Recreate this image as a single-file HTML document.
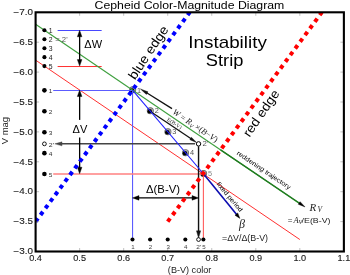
<!DOCTYPE html>
<html><head><meta charset="utf-8"><style>
html,body{margin:0;padding:0;background:#fff;width:350px;height:275px;overflow:hidden}
svg{display:block;will-change:transform}
</style></head><body>
<svg width="350" height="275" viewBox="0 0 350 275" font-family="Liberation Sans, sans-serif">
<rect width="350" height="275" fill="#fff"/>
<clipPath id="ax"><rect x="35.60" y="12.30" width="308.28" height="239.20"/></clipPath>
<g clip-path="url(#ax)">
<circle cx="132.69" cy="89.84" r="3.5" fill="#606060"/>
<circle cx="132.69" cy="89.84" r="2.8" fill="#a8a8a8"/>
<circle cx="132.09" cy="90.44" r="2.25" fill="#000"/>
<circle cx="150.30" cy="110.77" r="3.5" fill="#606060"/>
<circle cx="150.30" cy="110.77" r="2.8" fill="#a8a8a8"/>
<circle cx="149.70" cy="111.37" r="2.25" fill="#000"/>
<circle cx="167.92" cy="131.70" r="3.5" fill="#606060"/>
<circle cx="167.92" cy="131.70" r="2.8" fill="#a8a8a8"/>
<circle cx="167.32" cy="132.30" r="2.25" fill="#000"/>
<circle cx="185.54" cy="152.63" r="3.5" fill="#606060"/>
<circle cx="185.54" cy="152.63" r="2.8" fill="#a8a8a8"/>
<circle cx="184.94" cy="153.23" r="2.25" fill="#000"/>
<circle cx="203.60" cy="173.56" r="3.5" fill="#606060"/>
<circle cx="203.60" cy="173.56" r="2.8" fill="#a8a8a8"/>
<circle cx="203.00" cy="174.16" r="2.25" fill="#000"/>
<line x1="57.62" y1="30.44" x2="101.66" y2="30.44" stroke="#4848ff" stroke-width="1.05" />
<line x1="57.62" y1="66.52" x2="101.66" y2="66.52" stroke="#ff3030" stroke-width="1.0" />
<line x1="35.60" y1="60.14" x2="299.84" y2="239.54" stroke="#ff3030" stroke-width="1.0" />
<line x1="53.22" y1="90.50" x2="132.49" y2="90.50" stroke="#5c5cff" stroke-width="1.0" />
<line x1="132.55" y1="90.04" x2="132.55" y2="239.54" stroke="#5c5cff" stroke-width="1.1" />
<line x1="53.22" y1="173.96" x2="203.40" y2="173.96" stroke="#ff8080" stroke-width="1.5" />
<line x1="203.40" y1="173.76" x2="203.40" y2="239.54" stroke="#ff5c5c" stroke-width="1.1" />
<line x1="35.60" y1="24.26" x2="299.84" y2="203.66" stroke="#3fa03f" stroke-width="1.15" />
<line x1="195.05" y1="143.86" x2="60.58" y2="143.86" stroke="#444" stroke-width="1.5" />
<polygon points="54.82,143.86 62.02,141.86 62.02,145.86" fill="#444" stroke="#444" stroke-width="0.4" stroke-linejoin="miter"/>
<line x1="198.55" y1="146.36" x2="198.55" y2="232.28" stroke="#111" stroke-width="1.4" />
<polygon points="198.55,238.04 196.45,230.84 200.65,230.84" fill="#111" stroke="#111" stroke-width="0.4" stroke-linejoin="miter"/>
<line x1="79.64" y1="60.92" x2="79.64" y2="35.44" stroke="#000" stroke-width="1.3" />
<polygon points="79.64,30.24 81.94,36.74 77.34,36.74" fill="#000" stroke="#000" stroke-width="0.4" stroke-linejoin="miter"/>
<polygon points="79.64,66.12 77.34,59.62 81.94,59.62" fill="#000" stroke="#000" stroke-width="0.4" stroke-linejoin="miter"/>
<line x1="79.64" y1="168.56" x2="79.64" y2="95.24" stroke="#000" stroke-width="1.3" />
<polygon points="79.64,90.04 81.94,96.54 77.34,96.54" fill="#000" stroke="#000" stroke-width="0.4" stroke-linejoin="miter"/>
<polygon points="79.64,173.76 77.34,167.26 81.94,167.26" fill="#000" stroke="#000" stroke-width="0.4" stroke-linejoin="miter"/>
<line x1="137.69" y1="197.90" x2="193.35" y2="197.90" stroke="#000" stroke-width="1.3" />
<polygon points="198.55,197.90 192.05,200.20 192.05,195.60" fill="#000" stroke="#000" stroke-width="0.4" stroke-linejoin="miter"/>
<polygon points="132.49,197.90 138.99,195.60 138.99,200.20" fill="#000" stroke="#000" stroke-width="0.4" stroke-linejoin="miter"/>
<line x1="151.60" y1="112.17" x2="191.87" y2="139.31" stroke="#111" stroke-width="1.25" />
<polygon points="196.85,142.66 189.85,139.63 191.41,137.31" fill="#111" stroke="#111" stroke-width="0.4" stroke-linejoin="miter"/>
<line x1="172.00" y1="108.60" x2="145.83" y2="92.29" stroke="#111" stroke-width="1.3" />
<polygon points="140.40,88.90 147.98,91.86 146.40,94.41" fill="#111" stroke="#111" stroke-width="0.4" stroke-linejoin="miter"/>
<circle cx="198.55" cy="143.86" r="2.2" fill="#fff" stroke="#000" stroke-width="1"/>
<line x1="132.49" y1="90.04" x2="203.40" y2="173.76" stroke="#2020ff" stroke-width="1.1" />
<line x1="203.40" y1="173.76" x2="237.06" y2="214.93" stroke="#0c0cb0" stroke-width="1.6" />
<polygon points="239.90,218.40 234.96,215.20 237.75,212.93" fill="#000" stroke="#000" stroke-width="0.4" stroke-linejoin="miter"/>
<line x1="220.57" y1="149.84" x2="300.36" y2="203.76" stroke="#1f7a1f" stroke-width="1.3" />
<polygon points="305.00,206.90 298.30,204.31 300.10,201.65" fill="#000" stroke="#000" stroke-width="0.4" stroke-linejoin="miter"/>
<line x1="35.60" y1="221.60" x2="189.74" y2="12.30" stroke="#0000ff" stroke-width="4" stroke-dasharray="4 4.27"/>
<line x1="167.72" y1="221.60" x2="321.86" y2="12.30" stroke="#ff0000" stroke-width="4" stroke-dasharray="4 4.27"/>
<circle cx="44.41" cy="30.24" r="2.05" fill="#000"/>
<circle cx="44.41" cy="39.21" r="2.05" fill="#000"/>
<circle cx="44.41" cy="48.18" r="2.05" fill="#000"/>
<circle cx="44.41" cy="57.15" r="2.05" fill="#000"/>
<circle cx="44.41" cy="66.12" r="2.05" fill="#000"/>
<circle cx="44.41" cy="90.34" r="2.3" fill="#000"/>
<circle cx="44.41" cy="111.27" r="2.3" fill="#000"/>
<circle cx="44.41" cy="132.20" r="2.3" fill="#000"/>
<circle cx="44.41" cy="153.13" r="2.3" fill="#000"/>
<circle cx="44.41" cy="174.06" r="2.3" fill="#000"/>
<circle cx="44.41" cy="143.86" r="1.9" fill="#fff" stroke="#000" stroke-width="0.9"/>
<circle cx="132.49" cy="239.54" r="2.05" fill="#000"/>
<circle cx="150.10" cy="239.54" r="2.05" fill="#000"/>
<circle cx="167.72" cy="239.54" r="2.05" fill="#000"/>
<circle cx="185.34" cy="239.54" r="2.05" fill="#000"/>
<circle cx="203.40" cy="239.54" r="2.05" fill="#000"/>
<circle cx="198.55" cy="239.54" r="1.9" fill="#fff" stroke="#000" stroke-width="0.9"/>
</g>
<line x1="35.60" y1="12.30" x2="35.60" y2="15.80" stroke="#999" stroke-width="0.6" />
<line x1="35.60" y1="251.50" x2="35.60" y2="248.00" stroke="#999" stroke-width="0.6" />
<line x1="79.64" y1="12.30" x2="79.64" y2="15.80" stroke="#999" stroke-width="0.6" />
<line x1="79.64" y1="251.50" x2="79.64" y2="248.00" stroke="#999" stroke-width="0.6" />
<line x1="123.68" y1="12.30" x2="123.68" y2="15.80" stroke="#999" stroke-width="0.6" />
<line x1="123.68" y1="251.50" x2="123.68" y2="248.00" stroke="#999" stroke-width="0.6" />
<line x1="167.72" y1="12.30" x2="167.72" y2="15.80" stroke="#999" stroke-width="0.6" />
<line x1="167.72" y1="251.50" x2="167.72" y2="248.00" stroke="#999" stroke-width="0.6" />
<line x1="211.76" y1="12.30" x2="211.76" y2="15.80" stroke="#999" stroke-width="0.6" />
<line x1="211.76" y1="251.50" x2="211.76" y2="248.00" stroke="#999" stroke-width="0.6" />
<line x1="255.80" y1="12.30" x2="255.80" y2="15.80" stroke="#999" stroke-width="0.6" />
<line x1="255.80" y1="251.50" x2="255.80" y2="248.00" stroke="#999" stroke-width="0.6" />
<line x1="299.84" y1="12.30" x2="299.84" y2="15.80" stroke="#999" stroke-width="0.6" />
<line x1="299.84" y1="251.50" x2="299.84" y2="248.00" stroke="#999" stroke-width="0.6" />
<line x1="343.88" y1="12.30" x2="343.88" y2="15.80" stroke="#999" stroke-width="0.6" />
<line x1="343.88" y1="251.50" x2="343.88" y2="248.00" stroke="#999" stroke-width="0.6" />
<line x1="35.60" y1="12.30" x2="39.10" y2="12.30" stroke="#999" stroke-width="0.6" />
<line x1="343.88" y1="12.30" x2="340.38" y2="12.30" stroke="#999" stroke-width="0.6" />
<line x1="35.60" y1="42.20" x2="39.10" y2="42.20" stroke="#999" stroke-width="0.6" />
<line x1="343.88" y1="42.20" x2="340.38" y2="42.20" stroke="#999" stroke-width="0.6" />
<line x1="35.60" y1="72.10" x2="39.10" y2="72.10" stroke="#999" stroke-width="0.6" />
<line x1="343.88" y1="72.10" x2="340.38" y2="72.10" stroke="#999" stroke-width="0.6" />
<line x1="35.60" y1="102.00" x2="39.10" y2="102.00" stroke="#999" stroke-width="0.6" />
<line x1="343.88" y1="102.00" x2="340.38" y2="102.00" stroke="#999" stroke-width="0.6" />
<line x1="35.60" y1="131.90" x2="39.10" y2="131.90" stroke="#999" stroke-width="0.6" />
<line x1="343.88" y1="131.90" x2="340.38" y2="131.90" stroke="#999" stroke-width="0.6" />
<line x1="35.60" y1="161.80" x2="39.10" y2="161.80" stroke="#999" stroke-width="0.6" />
<line x1="343.88" y1="161.80" x2="340.38" y2="161.80" stroke="#999" stroke-width="0.6" />
<line x1="35.60" y1="191.70" x2="39.10" y2="191.70" stroke="#999" stroke-width="0.6" />
<line x1="343.88" y1="191.70" x2="340.38" y2="191.70" stroke="#999" stroke-width="0.6" />
<line x1="35.60" y1="221.60" x2="39.10" y2="221.60" stroke="#999" stroke-width="0.6" />
<line x1="343.88" y1="221.60" x2="340.38" y2="221.60" stroke="#999" stroke-width="0.6" />
<line x1="35.60" y1="251.50" x2="39.10" y2="251.50" stroke="#999" stroke-width="0.6" />
<line x1="343.88" y1="251.50" x2="340.38" y2="251.50" stroke="#999" stroke-width="0.6" />
<rect x="35.60" y="12.30" width="308.28" height="239.20" fill="none" stroke="#000" stroke-width="2.1"/>
<text x="35.60" y="261.00" font-size="8.48" font-family="Liberation Sans" fill="#1a1a1a" text-anchor="middle" textLength="12.72" lengthAdjust="spacingAndGlyphs"  stroke="#1a1a1a" stroke-width="0.12">0.4</text>
<text x="79.64" y="261.00" font-size="8.48" font-family="Liberation Sans" fill="#1a1a1a" text-anchor="middle" textLength="12.72" lengthAdjust="spacingAndGlyphs"  stroke="#1a1a1a" stroke-width="0.12">0.5</text>
<text x="123.68" y="261.00" font-size="8.48" font-family="Liberation Sans" fill="#1a1a1a" text-anchor="middle" textLength="12.72" lengthAdjust="spacingAndGlyphs"  stroke="#1a1a1a" stroke-width="0.12">0.6</text>
<text x="167.72" y="261.00" font-size="8.48" font-family="Liberation Sans" fill="#1a1a1a" text-anchor="middle" textLength="12.72" lengthAdjust="spacingAndGlyphs"  stroke="#1a1a1a" stroke-width="0.12">0.7</text>
<text x="211.76" y="261.00" font-size="8.48" font-family="Liberation Sans" fill="#1a1a1a" text-anchor="middle" textLength="12.72" lengthAdjust="spacingAndGlyphs"  stroke="#1a1a1a" stroke-width="0.12">0.8</text>
<text x="255.80" y="261.00" font-size="8.48" font-family="Liberation Sans" fill="#1a1a1a" text-anchor="middle" textLength="12.72" lengthAdjust="spacingAndGlyphs"  stroke="#1a1a1a" stroke-width="0.12">0.9</text>
<text x="299.84" y="261.00" font-size="8.48" font-family="Liberation Sans" fill="#1a1a1a" text-anchor="middle" textLength="12.72" lengthAdjust="spacingAndGlyphs"  stroke="#1a1a1a" stroke-width="0.12">1.0</text>
<text x="343.88" y="261.00" font-size="8.48" font-family="Liberation Sans" fill="#1a1a1a" text-anchor="middle" textLength="12.72" lengthAdjust="spacingAndGlyphs"  stroke="#1a1a1a" stroke-width="0.12">1.1</text>
<text x="32.90" y="15.00" font-size="8.48" font-family="Liberation Sans" fill="#1a1a1a" text-anchor="end" textLength="19.43" lengthAdjust="spacingAndGlyphs"  stroke="#1a1a1a" stroke-width="0.12">−7.0</text>
<text x="32.90" y="44.90" font-size="8.48" font-family="Liberation Sans" fill="#1a1a1a" text-anchor="end" textLength="19.43" lengthAdjust="spacingAndGlyphs"  stroke="#1a1a1a" stroke-width="0.12">−6.5</text>
<text x="32.90" y="74.80" font-size="8.48" font-family="Liberation Sans" fill="#1a1a1a" text-anchor="end" textLength="19.43" lengthAdjust="spacingAndGlyphs"  stroke="#1a1a1a" stroke-width="0.12">−6.0</text>
<text x="32.90" y="104.70" font-size="8.48" font-family="Liberation Sans" fill="#1a1a1a" text-anchor="end" textLength="19.43" lengthAdjust="spacingAndGlyphs"  stroke="#1a1a1a" stroke-width="0.12">−5.5</text>
<text x="32.90" y="134.60" font-size="8.48" font-family="Liberation Sans" fill="#1a1a1a" text-anchor="end" textLength="19.43" lengthAdjust="spacingAndGlyphs"  stroke="#1a1a1a" stroke-width="0.12">−5.0</text>
<text x="32.90" y="164.50" font-size="8.48" font-family="Liberation Sans" fill="#1a1a1a" text-anchor="end" textLength="19.43" lengthAdjust="spacingAndGlyphs"  stroke="#1a1a1a" stroke-width="0.12">−4.5</text>
<text x="32.90" y="194.40" font-size="8.48" font-family="Liberation Sans" fill="#1a1a1a" text-anchor="end" textLength="19.43" lengthAdjust="spacingAndGlyphs"  stroke="#1a1a1a" stroke-width="0.12">−4.0</text>
<text x="32.90" y="224.30" font-size="8.48" font-family="Liberation Sans" fill="#1a1a1a" text-anchor="end" textLength="19.43" lengthAdjust="spacingAndGlyphs"  stroke="#1a1a1a" stroke-width="0.12">−3.5</text>
<text x="32.90" y="254.20" font-size="8.48" font-family="Liberation Sans" fill="#1a1a1a" text-anchor="end" textLength="19.43" lengthAdjust="spacingAndGlyphs"  stroke="#1a1a1a" stroke-width="0.12">−3.0</text>
<text x="94.60" y="8.60" font-size="10.6" font-family="Liberation Sans" fill="#000" text-anchor="start" textLength="189.69" lengthAdjust="spacingAndGlyphs" >Cepheid Color-Magnitude Diagram</text>
<text x="189.60" y="273.10" font-size="8.8" font-family="Liberation Sans" fill="#1a1a1a" text-anchor="middle" textLength="43.43" lengthAdjust="spacingAndGlyphs" >(B-V) color</text>
<text x="8.40" y="130.60" font-size="9.01" font-family="Liberation Sans" fill="#1a1a1a" text-anchor="middle" textLength="27.40" lengthAdjust="spacingAndGlyphs" transform="rotate(-90 8.40 130.60)" >V mag</text>
<text x="48.71" y="33.34" font-size="6.36" font-family="Liberation Sans" fill="#1a1a1a" text-anchor="start" textLength="3.82" lengthAdjust="spacingAndGlyphs" >1</text>
<text x="48.71" y="42.31" font-size="6.36" font-family="Liberation Sans" fill="#1a1a1a" text-anchor="start" textLength="3.82" lengthAdjust="spacingAndGlyphs" >2</text>
<text x="48.71" y="51.28" font-size="6.36" font-family="Liberation Sans" fill="#1a1a1a" text-anchor="start" textLength="3.82" lengthAdjust="spacingAndGlyphs" >3</text>
<text x="48.71" y="60.25" font-size="6.36" font-family="Liberation Sans" fill="#1a1a1a" text-anchor="start" textLength="3.82" lengthAdjust="spacingAndGlyphs" >4</text>
<text x="48.71" y="69.22" font-size="6.36" font-family="Liberation Sans" fill="#1a1a1a" text-anchor="start" textLength="3.82" lengthAdjust="spacingAndGlyphs" >5</text>
<text x="55.21" y="42.31" font-size="6.36" font-family="Liberation Sans" fill="#555" text-anchor="start" textLength="12.40" lengthAdjust="spacingAndGlyphs" >= 2'</text>
<text x="48.81" y="93.24" font-size="6.04" font-family="Liberation Sans" fill="#333" text-anchor="start" textLength="3.63" lengthAdjust="spacingAndGlyphs" >1</text>
<text x="48.81" y="114.17" font-size="6.04" font-family="Liberation Sans" fill="#333" text-anchor="start" textLength="3.63" lengthAdjust="spacingAndGlyphs" >2</text>
<text x="48.81" y="135.10" font-size="6.04" font-family="Liberation Sans" fill="#333" text-anchor="start" textLength="3.63" lengthAdjust="spacingAndGlyphs" >3</text>
<text x="48.81" y="156.03" font-size="6.04" font-family="Liberation Sans" fill="#333" text-anchor="start" textLength="3.63" lengthAdjust="spacingAndGlyphs" >4</text>
<text x="48.81" y="176.96" font-size="6.04" font-family="Liberation Sans" fill="#333" text-anchor="start" textLength="3.63" lengthAdjust="spacingAndGlyphs" >5</text>
<text x="48.81" y="147.06" font-size="6.04" font-family="Liberation Sans" fill="#333" text-anchor="start" textLength="5.19" lengthAdjust="spacingAndGlyphs" >2'</text>
<text x="132.89" y="248.94" font-size="5.72" font-family="Liberation Sans" fill="#444" text-anchor="middle" textLength="3.44" lengthAdjust="spacingAndGlyphs" >1</text>
<text x="150.50" y="248.94" font-size="5.72" font-family="Liberation Sans" fill="#444" text-anchor="middle" textLength="3.44" lengthAdjust="spacingAndGlyphs" >2</text>
<text x="168.12" y="248.94" font-size="5.72" font-family="Liberation Sans" fill="#444" text-anchor="middle" textLength="3.44" lengthAdjust="spacingAndGlyphs" >3</text>
<text x="185.74" y="248.94" font-size="5.72" font-family="Liberation Sans" fill="#444" text-anchor="middle" textLength="3.44" lengthAdjust="spacingAndGlyphs" >4</text>
<text x="198.85" y="248.94" font-size="5.72" font-family="Liberation Sans" fill="#444" text-anchor="middle" textLength="4.92" lengthAdjust="spacingAndGlyphs" >2'</text>
<text x="204.00" y="248.94" font-size="5.72" font-family="Liberation Sans" fill="#444" text-anchor="middle" textLength="3.44" lengthAdjust="spacingAndGlyphs" >5</text>
<text x="137.09" y="92.54" font-size="6.78" font-family="Liberation Sans" fill="#505050" text-anchor="start" textLength="4.07" lengthAdjust="spacingAndGlyphs" >1</text>
<text x="154.70" y="113.47" font-size="6.78" font-family="Liberation Sans" fill="#505050" text-anchor="start" textLength="4.07" lengthAdjust="spacingAndGlyphs" >2</text>
<text x="172.32" y="134.40" font-size="6.78" font-family="Liberation Sans" fill="#505050" text-anchor="start" textLength="4.07" lengthAdjust="spacingAndGlyphs" >3</text>
<text x="189.94" y="155.33" font-size="6.78" font-family="Liberation Sans" fill="#505050" text-anchor="start" textLength="4.07" lengthAdjust="spacingAndGlyphs" >4</text>
<text x="208.00" y="176.26" font-size="6.78" font-family="Liberation Sans" fill="#888" text-anchor="start" textLength="4.07" lengthAdjust="spacingAndGlyphs" >5</text>
<text x="202.55" y="146.36" font-size="6.78" font-family="Liberation Sans" fill="#505050" text-anchor="start" textLength="5.83" lengthAdjust="spacingAndGlyphs" >2'</text>
<text x="188.30" y="47.60" font-size="16.96" font-family="Liberation Sans" fill="#000" text-anchor="start" textLength="78.51" lengthAdjust="spacingAndGlyphs" >Instability</text>
<text x="205.80" y="65.60" font-size="16.96" font-family="Liberation Sans" fill="#000" text-anchor="start" textLength="37.61" lengthAdjust="spacingAndGlyphs" >Strip</text>
<text x="84.30" y="48.40" font-size="11.24" font-family="Liberation Sans" fill="#000" text-anchor="start" textLength="17.73" lengthAdjust="spacingAndGlyphs" >ΔW</text>
<rect x="71.5" y="119.9" width="17" height="17.6" fill="#fff"/>
<text x="80.00" y="132.60" font-size="11.45" font-family="Liberation Sans" fill="#000" text-anchor="middle" textLength="14.78" lengthAdjust="spacingAndGlyphs" >ΔV</text>
<text x="163.00" y="192.80" font-size="11.45" font-family="Liberation Sans" fill="#000" text-anchor="middle" textLength="33.88" lengthAdjust="spacingAndGlyphs" >Δ(B-V)</text>
<text x="135.00" y="80.40" font-size="13.04" font-family="Liberation Sans" fill="#000" text-anchor="start" textLength="61.25" lengthAdjust="spacingAndGlyphs" transform="rotate(-56.2 135.00 80.40)" >blue edge</text>
<text x="249.40" y="137.80" font-size="12.83" font-family="Liberation Sans" fill="#000" text-anchor="start" textLength="53.93" lengthAdjust="spacingAndGlyphs" transform="rotate(-55.5 249.40 137.80)" >red edge</text>
<text x="236.20" y="154.30" font-size="6.57" font-family="Liberation Sans" fill="#000" text-anchor="start" textLength="63.57" lengthAdjust="spacingAndGlyphs" transform="rotate(33.8 236.20 154.30)" >reddening trajectory</text>
<text x="216.30" y="184.20" font-size="6.52" font-family="Liberation Sans" fill="#000" text-anchor="start" textLength="36.56" lengthAdjust="spacingAndGlyphs" transform="rotate(50.3 216.30 184.20)" >fixed period</text>
<text x="171.90" y="113.30" font-size="8.5" font-family="Liberation Serif" fill="#222" text-anchor="start" transform="rotate(33.8 171.90 113.30)" ><tspan font-style='italic'>W</tspan> = <tspan font-style='italic'>R</tspan><tspan font-style='italic' font-size='5.5' dy='1.5'>V</tspan><tspan dy='-1.5'> ×(</tspan><tspan font-style='italic'>B</tspan>−<tspan font-style='italic'>V</tspan>)</text>
<text x="166.60" y="120.40" font-size="5.6" font-family="Liberation Serif" fill="#222" text-anchor="start" textLength="16.5" lengthAdjust="spacingAndGlyphs" transform="rotate(33.8 166.60 120.40)" >E(B-V)</text>
<text x="309.60" y="210.90" font-size="11" font-family="Liberation Serif" fill="#222" text-anchor="start" font-style="italic" >R</text>
<text x="317.40" y="211.80" font-size="7.5" font-family="Liberation Serif" fill="#222" text-anchor="start" font-style="italic" >V</text>
<text x="287.70" y="222.60" font-size="8" font-family="Liberation Sans" fill="#333" text-anchor="start" >=</text>
<text x="293.40" y="222.80" font-size="8.5" font-family="Liberation Serif" fill="#222" text-anchor="start" font-style="italic" >A</text>
<text x="298.60" y="223.70" font-size="6" font-family="Liberation Serif" fill="#222" text-anchor="start" font-style="italic" >V</text>
<text x="301.60" y="222.80" font-size="7.6" font-family="Liberation Sans" fill="#222" text-anchor="start" textLength="28.9" lengthAdjust="spacingAndGlyphs" >/E(B-V)</text>
<text x="239.00" y="227.50" font-size="12" font-family="Liberation Serif" fill="#222" text-anchor="start" font-style="italic" >β</text>
<text x="222.00" y="240.50" font-size="8.59" font-family="Liberation Sans" fill="#222" text-anchor="start" textLength="46.01" lengthAdjust="spacingAndGlyphs" >=ΔV/Δ(B-V)</text>
</svg>
</body></html>
